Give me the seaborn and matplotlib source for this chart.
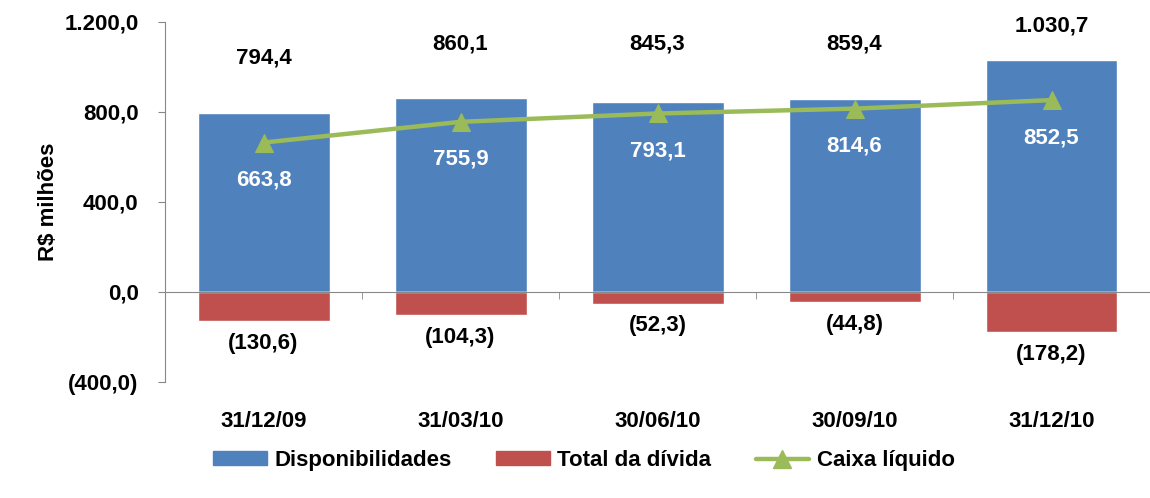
import numpy as np
import pandas as pd
import matplotlib
matplotlib.use("Agg")
import matplotlib.pyplot as plt
import matplotlib.transforms as mtransforms
from matplotlib.patches import Patch
from matplotlib.lines import Line2D
from matplotlib.ticker import FuncFormatter
import seaborn as sns

# data
dates = ["31/12/09", "31/03/10", "30/06/10", "30/09/10", "31/12/10"]
disponibilidades = [794.4, 860.1, 845.3, 859.4, 1030.7]
total_divida = [-130.6, -104.3, -52.3, -44.8, -178.2]
caixa_liquido = [663.8, 755.9, 793.1, 814.6, 852.5]
yticks = [-400, 0, 400, 800, 1200]

BLUE = "#4F81BD"
RED = "#C0504D"
GREEN = "#9BBB59"
GRAY = "#888888"
FS = 16


def fmt_br(v):
    s = f"{abs(v):,.1f}".replace(",", "X").replace(".", ",").replace("X", ".")
    return f"({s})" if v < 0 else s


sns.set_style("white")
plt.rcParams["font.family"] = ["Liberation Sans", "DejaVu Sans"]
plt.rcParams["font.weight"] = "bold"
plt.rcParams["text.color"] = "black"
plt.rcParams["axes.labelcolor"] = "black"
plt.rcParams["ytick.color"] = "black"

df = pd.DataFrame({"data": dates, "disp": disponibilidades,
                   "divida": total_divida, "caixa": caixa_liquido})

fig, ax = plt.subplots(figsize=(11.5, 4.98), dpi=100)
fig.subplots_adjust(left=0.1435, right=1.0, top=0.956, bottom=0.233)

sns.barplot(data=df, x="data", y="disp", color=BLUE, width=0.67,
            saturation=1, ax=ax)
sns.barplot(data=df, x="data", y="divida", color=RED, width=0.67,
            saturation=1, ax=ax)
pos = np.arange(len(dates))
sns.lineplot(x=pos, y=df["caixa"], color=GREEN, lw=3.2, marker="^",
             markersize=13, markeredgecolor=GREEN, sort=False, ax=ax)

ax.set_xlim(-0.5, len(dates) - 0.5)
ax.set_ylim(-400, 1200)
ax.set_yticks(yticks)
ax.yaxis.set_major_formatter(FuncFormatter(lambda v, p: fmt_br(v)))
ax.tick_params(axis="y", left=True, direction="out", length=5, color=GRAY,
               labelcolor="black", labelsize=FS, pad=14)
ax.set_ylabel("R$ milhões", fontsize=FS, fontweight="bold", labelpad=4)
ax.set_xlabel("")

for side in ["top", "right"]:
    ax.spines[side].set_visible(False)
ax.spines["left"].set_color(GRAY)
ax.spines["bottom"].set_color(GRAY)
ax.spines["bottom"].set_position(("data", 0))

# boundary ticks on the zero line, category labels at the bottom
ax.set_xticks(pos)
ax.set_xticklabels([])
ax.tick_params(axis="x", which="major", bottom=False, length=0)
ax.set_xticks(np.arange(-0.5, len(dates)), minor=True)
ax.tick_params(axis="x", which="minor", bottom=True, direction="out",
               length=5, color=GRAY)

trans = mtransforms.blended_transform_factory(ax.transData, ax.transAxes)
for i, d in enumerate(dates):
    ax.text(i, -0.11, d, transform=trans, ha="center", va="center",
            fontsize=FS, fontweight="bold")

# value labels
top_label_y = [1040, 1100, 1100, 1100, 1180]
for i in range(len(dates)):
    ax.text(i, top_label_y[i], fmt_br(disponibilidades[i]), ha="center",
            va="center", fontsize=FS, fontweight="bold")
    ax.annotate(fmt_br(total_divida[i]), (i, total_divida[i]),
                xytext=(0, -16), textcoords="offset points", ha="center",
                va="center", fontsize=FS, fontweight="bold")
    ax.annotate(fmt_br(caixa_liquido[i]), (i, caixa_liquido[i]),
                xytext=(0, -27), textcoords="offset points", ha="center",
                va="center", fontsize=FS, fontweight="bold", color="white")

handles = [Patch(color=BLUE, label="Disponibilidades"),
           Patch(color=RED, label="Total da dívida"),
           Line2D([0], [0], color=GREEN, lw=3.2, marker="^", markersize=13,
                  label="Caixa líquido")]
fig.legend(handles=handles, loc="center", bbox_to_anchor=(0.508, 0.075),
           ncol=3, frameon=False, handlelength=2.4, handleheight=0.6,
           handletextpad=0.35, columnspacing=2.0,
           prop={"weight": "bold", "size": FS})

fig.savefig("out.png", dpi=100)
